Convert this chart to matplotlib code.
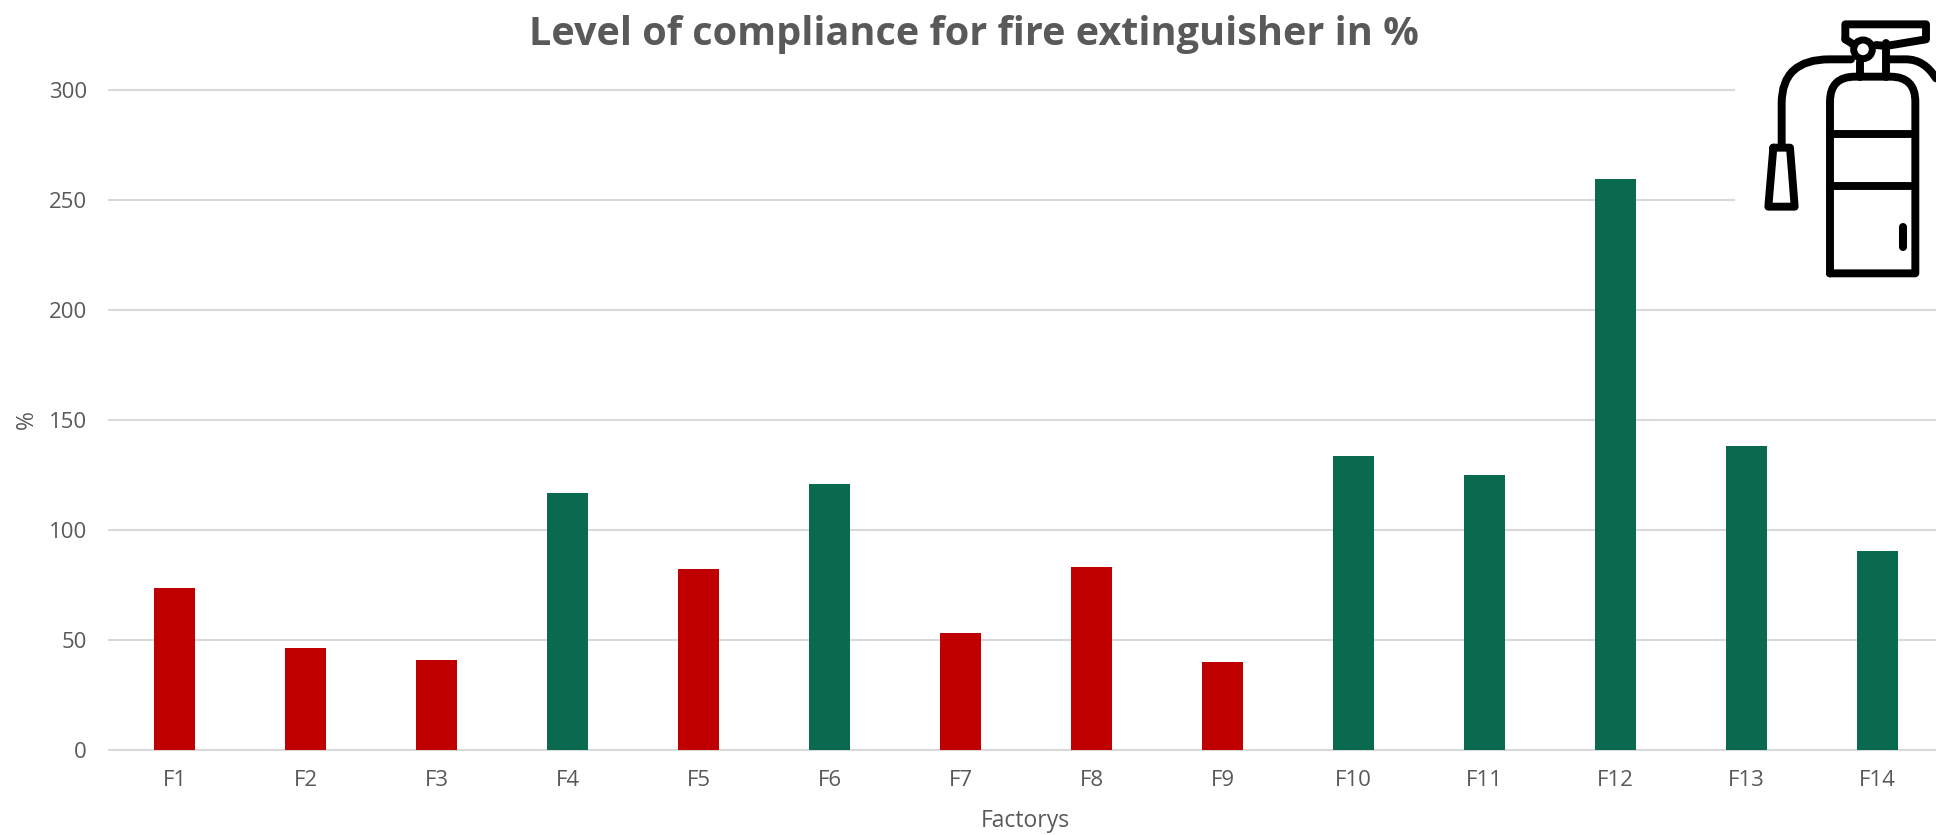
import matplotlib
matplotlib.use('Agg')
from matplotlib import pyplot as plt
from matplotlib.patches import Circle, Rectangle
from matplotlib.path import Path
from matplotlib.patches import PathPatch

plt.rcParams['font.family'] = ['Open Sans', 'DejaVu Sans']

factories = ['F1', 'F2', 'F3', 'F4', 'F5', 'F6', 'F7', 'F8', 'F9', 'F10', 'F11', 'F12', 'F13', 'F14']
compliance = [73.8, 46.5, 41, 117, 82.2, 120.8, 53.4, 83.4, 40.2, 133.7, 125.2, 259.6, 138.4, 90.7]
green_factories = ['F4', 'F6', 'F10', 'F11', 'F12', 'F13', 'F14']
y_ticks = [0, 50, 100, 150, 200, 250, 300]

RED = '#C00000'
GREEN = '#0A6A50'
GREY = '#595959'
W, H = 1936, 835


def draw_icon(ax):
    # icon outline, in pixels of a 3x crop starting at x=1736
    def px(x, y):
        return 1736 + x / 3, y / 3

    def stroke(verts, codes=None, lw=5.7):
        pts = [px(*v) for v in verts]
        if codes is None:
            codes = [Path.MOVETO] + [Path.LINETO] * (len(pts) - 1)
        ax.add_patch(PathPatch(Path(pts, codes), fill=False, ec='black', lw=lw,
                               capstyle='round', joinstyle='round'))

    # white box behind the icon hides the top gridlines
    ax.add_patch(Rectangle((1735, 0), 201, 290, fc='white', ec='none'))
    M, L, C = Path.MOVETO, Path.LINETO, Path.CURVE3
    # body
    stroke([(282, 820), (282, 305), (282, 230), (357, 230), (463, 230), (538, 230), (538, 305), (538, 820), (282, 820)],
           [M, L, C, C, L, C, C, L, L])
    stroke([(282, 403), (538, 403)])
    stroke([(282, 558), (538, 558)])
    stroke([(500, 682), (500, 742)], lw=5.8)
    # neck
    stroke([(371, 185), (371, 230)])
    stroke([(449, 130), (449, 230)])
    # lever
    stroke([(328, 118), (328, 73), (570, 73), (570, 118), (450, 138), (420, 135)])
    stroke([(328, 118), (355, 135)])
    cx, cy = px(381, 148)
    ax.add_patch(Circle((cx, cy), 28 / 3, fc='white', ec='black', lw=5))
    # hose
    stroke([(345, 178), (280, 178), (137, 178), (137, 310), (137, 440)], [M, L, C, C, L])
    stroke([(460, 178), (510, 178), (565, 178), (600, 235)], [M, L, C, C])
    # nozzle
    stroke([(112, 443), (162, 443), (176, 620), (97, 620), (112, 443)])


fig = plt.figure(figsize=(W / 100, H / 100), dpi=100)
ax = fig.add_axes([109 / W, 1 - 750.3 / H, (1943 - 109) / W, 660.3 / H])

colors = [GREEN if f in green_factories else RED for f in factories]
ax.bar(range(len(factories)), compliance, width=41 / 131, color=colors, zorder=3)

ax.set_xlim(-0.5, 13.5)
ax.set_ylim(0, 300)
ax.set_yticks(y_ticks)
ax.set_xticks(range(len(factories)))
ax.set_xticklabels(factories)
ax.grid(axis='y', color='#D9D9D9', lw=1.5, zorder=1)
ax.set_axisbelow(True)
for s in ax.spines.values():
    s.set_visible(False)
ax.tick_params(axis='y', length=0, pad=16, labelsize=16, labelcolor=GREY)
ax.tick_params(axis='x', length=0, pad=14, labelsize=16, labelcolor=GREY)
for gl in ax.get_ygridlines():
    gl.set_clip_on(False)

fig.text(974 / W, 1 - 34 / H, 'Level of compliance for fire extinguisher in %', ha='center', va='center',
         fontsize=28.5, fontweight='bold', color=GREY)
fig.text(27 / W, 1 - 420 / H, '%', rotation=90, ha='center', va='center', fontsize=16.5, color=GREY)
fig.text(1025 / W, 1 - 821 / H, 'Factorys', ha='center', va='center', fontsize=16.5, color=GREY)

over = fig.add_axes([0, 0, 1, 1], facecolor='none')
over.set_xlim(0, W)
over.set_ylim(H, 0)
over.axis('off')
draw_icon(over)

fig.savefig('out.png', dpi=100)
